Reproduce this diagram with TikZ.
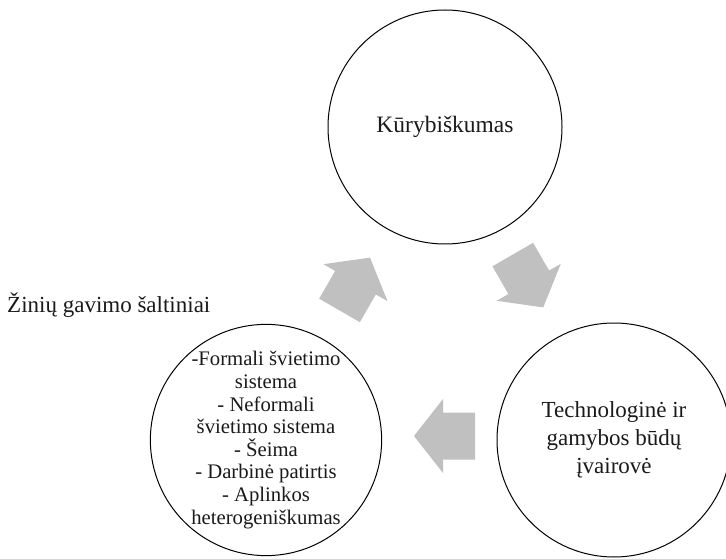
\documentclass[tikz,border=0pt]{standalone}
\usepackage{fontspec}
\setmainfont{Liberation Serif}
\definecolor{arrowgray}{RGB}{192,192,192}
\definecolor{ink}{RGB}{26,26,26}
\begin{document}
\begin{tikzpicture}[x=1pt,y=1pt,
  bubble/.style={circle, draw=black, line width=1pt, inner sep=0pt, align=center, text=ink},
  pics/blockarrow/.style={code={
    \fill[arrowgray] (-30.5,23.5) -- (1.5,23.5) -- (1.5,37) -- (30.5,0)
      -- (1.5,-37) -- (1.5,-23.5) -- (-30.5,-23.5) -- cycle;}}
]
\useasboundingbox (0,0) rectangle (726,558);

% the three stages of the cycle
\node[bubble, minimum size=234pt, font=\fontsize{23.5}{28}\selectfont]
  (kur) at (445,431) {Kūrybiškumas};
\node[bubble, minimum size=234pt, font=\fontsize{23}{28}\selectfont]
  (tech) at (614,118) {Technologinė ir\\gamybos būdų\\įvairovė};
\node[bubble, minimum size=230pt, font=\fontsize{20.7}{22.6}\selectfont]
  (zin) at (266,118) {-Formali švietimo\\sistema\\- Neformali\\švietimo sistema\\- Šeima\\- Darbinė patirtis\\- Aplinkos\\heterogeniškumas};

% caption of the lower left stage
\node[anchor=base west, inner sep=0pt, text=ink, font=\fontsize{23}{28}\selectfont]
  (title) at (7,246) {Žinių gavimo šaltiniai};

% block arrows between the stages
\pic[rotate=60]  (toKur)  at (354.75,274) {blockarrow};
\pic[rotate=-60] (toTech) at (528,277)    {blockarrow};
\pic[rotate=180] (toZin)  at (444.5,122)  {blockarrow};
\end{tikzpicture}
\end{document}
